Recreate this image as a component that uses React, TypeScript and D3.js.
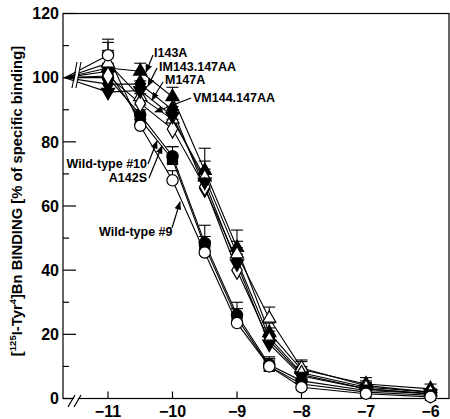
import React from 'react';
import * as d3 from 'd3';

// log [Bn] (M); first value is the control point drawn left of the axis break
const xVals = [-11.67, -11, -10.5, -10, -9.5, -9, -8.5, -8, -7, -6];
const xTicks = [-11, -10, -9, -8, -7, -6];

const wt9 = [100, 107, 85, 68, 45.5, 23.5, 10, 3.5, 1.5, 0.5];
const wt10 = [100, 102, 87, 74.5, 47.5, 25, 10, 4.5, 2, 1];
const a142s = [100, 100, 88.5, 75.5, 48.5, 26, 10.5, 5.5, 2.5, 1.5];
const i143a = [100, 103, 102, 94, 71, 47, 20.5, 9, 4.5, 3];
const im143 = [100, 98, 98, 90, 65.5, 43, 19, 8, 3.5, 2];
const m147a = [100, 104.5, 94, 87, 69, 45, 25, 9.5, 4, 2];
const vm144 = [100, 100.5, 92, 84, 66, 40, 18, 7.5, 3, 1.5];
const other = [100, 95.5, 96, 88, 67.5, 42, 17, 7, 3, 1.5];

const wt9Err = [0, 5, 2, 3, 2, 2, 3, 1.5, 1, 1];
const wt10Err = [0, 6, 3, 4, 3, 3, 2, 1.5, 1, 1];
const a142sErr = [0, 4, 3, 3, 5.5, 4, 2, 2, 1, 1];
const i143aErr = [0, 8, 2.5, 3, 7, 5.5, 3, 3, 2, 1.5];
const im143Err = [0, 5, 3, 3, 5, 4, 3, 2, 1.5, 1];
const m147aErr = [0, 4, 3, 3, 5, 4, 3.5, 2, 1.5, 1];
const vm144Err = [0, 4, 3, 3, 4, 3, 3, 2, 1.5, 1];
const otherErr = [0, 4, 3, 3, 4, 3, 3, 2, 1.5, 1];

const series = [
  { name: 'Wild-type #10', values: wt10, err: wt10Err, shape: 'square', filled: true },
  { name: 'A142S', values: a142s, err: a142sErr, shape: 'circle', filled: true },
  { name: 'I143A', values: i143a, err: i143aErr, shape: 'triangle', filled: true },
  { name: 'IM143.147AA', values: im143, err: im143Err, shape: 'diamond', filled: true },
  { name: 'M147A', values: m147a, err: m147aErr, shape: 'triangle', filled: false },
  { name: 'VM144.147AA', values: vm144, err: vm144Err, shape: 'diamond', filled: false },
  { name: 'other', values: other, err: otherErr, shape: 'down', filled: true },
  { name: 'Wild-type #9', values: wt9, err: wt9Err, shape: 'circle', filled: false },
];

// annotation text + arrow (in px)
const notes = [
  { text: 'I143A', tx: 154, ty: 57, anchor: 'start', a: [153, 55, 146, 72] },
  { text: 'IM143.147AA', tx: 159, ty: 71, anchor: 'start', a: [157, 68, 148, 86] },
  { text: 'M147A', tx: 165, ty: 84, anchor: 'start', a: [163, 82, 152, 100] },
  { text: 'VM144.147AA', tx: 193, ty: 102, anchor: 'start', a: [191, 98, 155, 112] },
  { text: 'Wild-type #10', tx: 147, ty: 168, anchor: 'end', a: [148, 164, 157, 141] },
  { text: 'A142S', tx: 147, ty: 182, anchor: 'end', a: [149, 178, 162, 146] },
  { text: 'Wild-type #9', tx: 99, ty: 236, anchor: 'start', a: [172, 228, 180, 202] },
];

const font = '"Liberation Sans", Arial, Helvetica, sans-serif';

const symbolPath = (shape: string) => {
  if (shape === 'circle') return d3.symbol(d3.symbolCircle, 100)();
  if (shape === 'square') return d3.symbol(d3.symbolSquare, 100)();
  if (shape === 'diamond') return d3.symbol(d3.symbolDiamond, 95)();
  return d3.symbol(d3.symbolTriangle, 75)();
};

const App = () => {
  const width = 450;
  const height = 419;
  const left = 63;
  const right = 449;
  const top = 13.5;
  const bottom = 398.5;

  const x = d3.scaleLinear().domain([-11, -6]).range([108, 430.5]);
  const y = d3.scaleLinear().domain([0, 120]).range([bottom, top]);

  const line = d3
    .line<number>()
    .x((_, i) => x(xVals[i]))
    .y((d) => y(d));

  return (
    <svg
      width={width}
      height={height}
      style={{ position: 'absolute', left: 0, top: 0, background: '#fff' }}
      fontFamily={font}
    >
      <defs>
        <marker id="ah" viewBox="0 0 10 10" refX="9" refY="5" markerWidth="7" markerHeight="7" orient="auto">
          <path d="M0,1 L10,5 L0,9 z" fill="#000" />
        </marker>
      </defs>

      {/* frame */}
      <rect x={left} y={top} width={right - left} height={bottom - top} fill="none" stroke="#000" strokeWidth={1.2} />

      {/* y ticks */}
      {y.ticks(12).map((t) => (
        <g key={'y' + t}>
          <line x1={left} x2={left + (t % 20 === 0 ? 13 : 6)} y1={y(t)} y2={y(t)} stroke="#000" strokeWidth={1.2} />
          {t % 20 === 0 && (
            <text x={59} y={y(t)} dy="0.36em" textAnchor="end" fontSize={16} fontWeight="bold">
              {t}
            </text>
          )}
        </g>
      ))}

      {/* x ticks */}
      {xTicks.map((t) => (
        <g key={'x' + t}>
          <line x1={x(t)} x2={x(t)} y1={bottom} y2={bottom - 7} stroke="#000" strokeWidth={1.2} />
          <text x={x(t)} y={417} textAnchor="middle" fontSize={16} fontWeight="bold">
            {'\u2212' + Math.abs(t)}
          </text>
        </g>
      ))}

      {/* x axis break */}
      <polygon points="69,407 76,395 80,395 73,407" fill="#fff" />
      <line x1={68} y1={407} x2={75} y2={395} stroke="#000" strokeWidth={1.2} />
      <line x1={74} y1={407} x2={81} y2={395} stroke="#000" strokeWidth={1.2} />

      {/* lines */}
      {series.map((s) => (
        <path key={'l' + s.name} d={line(s.values) || ''} fill="none" stroke="#000" strokeWidth={1.1} />
      ))}

      {/* break across the control segments */}
      <polygon points="73,88 78,62 81,62 76,88" fill="#fff" />
      <line x1={72} y1={88} x2={77} y2={62} stroke="#000" strokeWidth={1.1} />
      <line x1={76} y1={88} x2={81} y2={62} stroke="#000" strokeWidth={1.1} />

      {/* error bars (upper half) */}
      {series.map((s) =>
        s.values.map((v, i) =>
          i === 0 ? null : (
            <g key={'e' + s.name + i} stroke="#000" strokeWidth={1.1}>
              <line x1={x(xVals[i])} x2={x(xVals[i])} y1={y(v)} y2={y(v + s.err[i])} />
              <line x1={x(xVals[i]) - 6} x2={x(xVals[i]) + 6} y1={y(v + s.err[i])} y2={y(v + s.err[i])} />
            </g>
          )
        )
      )}

      {/* markers */}
      {series.map((s) =>
        s.values.map((v, i) =>
          i === 0 ? null : (
            <path
              key={'m' + s.name + i}
              d={symbolPath(s.shape) || ''}
              transform={`translate(${x(xVals[i])},${y(v)})${s.shape === 'down' ? ' rotate(180)' : ''}`}
              fill={s.filled ? '#000' : '#fff'}
              stroke="#000"
              strokeWidth={1.2}
            />
          )
        )
      )}

      {/* annotations */}
      {notes.map((n) => (
        <g key={n.text}>
          <line x1={n.a[0]} y1={n.a[1]} x2={n.a[2]} y2={n.a[3]} stroke="#000" strokeWidth={1.2} markerEnd="url(#ah)" />
          <text x={n.tx} y={n.ty} textAnchor={n.anchor} fontSize={12.5} fontWeight="bold">
            {n.text}
          </text>
        </g>
      ))}

      {/* y title */}
      <text transform="translate(22,201) rotate(-90)" textAnchor="middle" fontSize={14.8} fontWeight="bold">
        [<tspan fontSize={9.5} dy={-6}>125</tspan>
        <tspan dy={6}>I-Tyr</tspan>
        <tspan fontSize={9.5} dy={-6}>4</tspan>
        <tspan dy={6}>]Bn BINDING [% of specific binding]</tspan>
      </text>
    </svg>
  );
};

export default App;
